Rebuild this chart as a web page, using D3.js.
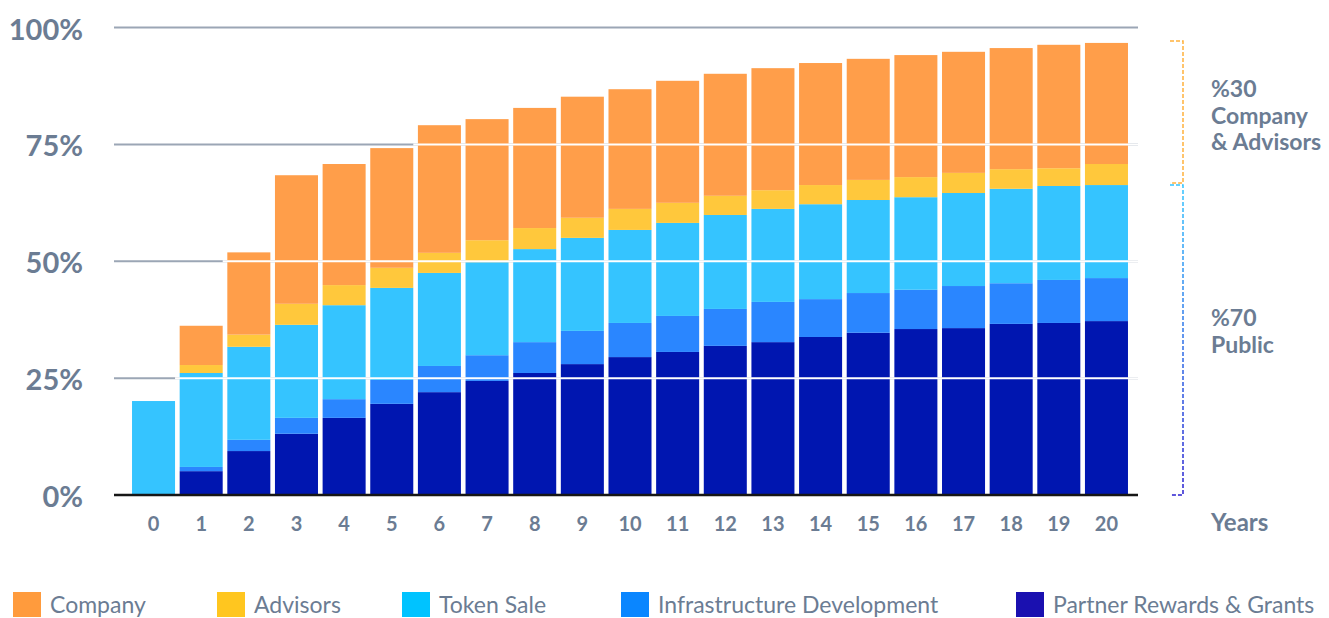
<!DOCTYPE html>
<html>
<head>
<meta charset="utf-8">
<script src="https://cdn.jsdelivr.net/npm/d3@7"></script>
<style>
  body { margin: 0; background: #fff; }
  svg text { font-family: Lato, "Noto Sans", sans-serif; }
</style>
</head>
<body>
<div id="chart"></div>
<script>
// years on the x axis
const years = d3.range(0, 21).map(String);

// segment sizes per year, in percent (bottom to top)
const partnerRewards = [0, 5.1, 9.4, 13.1, 16.5, 19.5, 22.0, 24.4, 26.1, 28.0, 29.5, 30.6, 31.9, 32.7, 33.8, 34.7, 35.5, 35.7, 36.6, 36.8, 37.2];
const infrastructure = [0, 0.9, 2.4, 3.4, 4.0, 5.1, 5.6, 5.5, 6.6, 7.1, 7.3, 7.7, 7.9, 8.6, 8.1, 8.5, 8.4, 9.0, 8.7, 9.2, 9.2];
const tokenSale = [20.1, 20.1, 19.9, 19.9, 20.1, 19.7, 19.9, 19.9, 19.9, 19.9, 19.9, 19.9, 20.1, 19.9, 20.3, 19.9, 19.8, 19.9, 20.2, 20.1, 19.9];
const advisors = [0, 1.7, 2.6, 4.5, 4.3, 4.3, 4.3, 4.7, 4.5, 4.3, 4.5, 4.3, 4.1, 4.0, 4.1, 4.3, 4.3, 4.3, 4.2, 3.8, 4.5];
const company = [0, 8.4, 17.6, 27.5, 25.9, 25.6, 27.3, 25.9, 25.7, 25.9, 25.6, 26.1, 26.1, 26.1, 26.1, 25.9, 26.1, 25.9, 25.9, 26.4, 25.9];

const yTicks = [0, 25, 50, 75, 100];

const seriesNames = ["Partner Rewards & Grants", "Infrastructure Development", "Token Sale", "Advisors", "Company"];
const barColors = ["#0016b0", "#2a86ff", "#35c4ff", "#ffc83c", "#ff9e4a"];
const legendColors = ["#1a10b0", "#0a86ff", "#00c3ff", "#ffc61f", "#ff9b3d"];
const legendOrder = ["Company", "Advisors", "Token Sale", "Infrastructure Development", "Partner Rewards & Grants"];

const textColor = "#6b7c93";

const table = years.map((yr, i) => ({
    year: yr,
    "Partner Rewards & Grants": partnerRewards[i],
    "Infrastructure Development": infrastructure[i],
    "Token Sale": tokenSale[i],
    "Advisors": advisors[i],
    "Company": company[i]
}));

const W = 1329, H = 618;
const plotLeft = 114, plotRight = 1138;

const svg = d3.select("#chart").append("svg")
    .attr("width", W)
    .attr("height", H);

const x = d3.scaleBand()
    .domain(years)
    .range([127.4, 1132.6])
    .paddingInner(0.097)
    .paddingOuter(0.097);

const y = d3.scaleLinear()
    .domain([0, 100])
    .range([495, 27.5]);

const stacked = d3.stack().keys(seriesNames)(table);
const totals = table.map(d => d3.sum(seriesNames, k => d[k]));
const gap = x.step() - x.bandwidth();

// grey grid lines behind the bars
svg.append("g")
    .selectAll("line")
    .data(yTicks.filter(t => t > 0))
    .enter()
    .append("line")
    .attr("x1", plotLeft)
    .attr("x2", plotRight)
    .attr("y1", d => y(d))
    .attr("y2", d => y(d))
    .attr("stroke", "#9ba6b5")
    .attr("stroke-width", 2);

// stacked bars
svg.append("g")
    .selectAll("g")
    .data(stacked)
    .enter()
    .append("g")
    .attr("fill", (d, i) => barColors[i])
    .selectAll("rect")
    .data(d => d)
    .enter()
    .append("rect")
    .attr("x", d => x(d.data.year))
    .attr("y", d => y(d[1]))
    .attr("width", x.bandwidth())
    .attr("height", d => Math.max(0, y(d[0]) - y(d[1])));

// white grid lines where they cross the bars
svg.append("g")
    .selectAll("line")
    .data(yTicks.filter(t => t > 0 && totals.some(v => v >= t)))
    .enter()
    .append("line")
    .attr("x1", t => x(years[totals.findIndex(v => v >= t)]) - gap)
    .attr("x2", plotRight)
    .attr("y1", d => y(d))
    .attr("y2", d => y(d))
    .attr("stroke", "#ffffff")
    .attr("stroke-width", 2);

// baseline
svg.append("line")
    .attr("x1", plotLeft)
    .attr("x2", plotRight)
    .attr("y1", y(0))
    .attr("y2", y(0))
    .attr("stroke", "#161616")
    .attr("stroke-width", 2.5);

// y tick labels
svg.append("g")
    .selectAll("text")
    .data(yTicks)
    .enter()
    .append("text")
    .attr("x", 83)
    .attr("y", d => y(d) + 12)
    .attr("text-anchor", "end")
    .attr("fill", textColor)
    .style("font-size", "29px")
    .style("font-weight", "bold")
    .text(d => d + "%");

// x tick labels
svg.append("g")
    .selectAll("text")
    .data(years)
    .enter()
    .append("text")
    .attr("x", d => x(d) + x.bandwidth() / 2)
    .attr("y", 531)
    .attr("text-anchor", "middle")
    .attr("fill", textColor)
    .style("font-size", "20px")
    .style("font-weight", "bold")
    .text(d => d);

svg.append("text")
    .attr("x", 1211)
    .attr("y", 531)
    .attr("fill", textColor)
    .style("font-size", "24px")
    .style("font-weight", "bold")
    .text("Years");

// brackets on the right
const last = table.length - 1;
const tokenTop = partnerRewards[last] + infrastructure[last] + tokenSale[last];
const bx = 1183, tickLen = 13;

const grad = svg.append("defs").append("linearGradient")
    .attr("id", "publicGrad")
    .attr("gradientUnits", "userSpaceOnUse")
    .attr("x1", 0).attr("x2", 0)
    .attr("y1", y(tokenTop)).attr("y2", y(0));
grad.append("stop").attr("offset", "0%").attr("stop-color", "#33c3ff");
grad.append("stop").attr("offset", "100%").attr("stop-color", "#2a1fd0");

const dashed = (path, color) => svg.append("path")
    .attr("d", path)
    .attr("fill", "none")
    .attr("stroke", color)
    .attr("stroke-width", 1.5)
    .attr("stroke-dasharray", "4,2");

const compTop = y(totals[last]) - 2, compBot = y(tokenTop) - 2;
dashed(`M${bx - tickLen},${compTop}H${bx}V${compBot}H${bx - tickLen}`, "#ffb13c");
dashed(`M${bx - tickLen},${y(tokenTop)}H${bx}V${y(0)}H${bx - tickLen}`, "url(#publicGrad)");

const rightLabels = [
    { lines: ["%30", "Company", "& Advisors"], y: 97 },
    { lines: ["%70", "Public"], y: 326 }
];
rightLabels.forEach(lbl => {
    const t = svg.append("text")
        .attr("x", 1211)
        .attr("y", lbl.y)
        .attr("fill", textColor)
        .style("font-size", "23px")
        .style("font-weight", "bold");
    lbl.lines.forEach((ln, i) => {
        t.append("tspan")
            .attr("x", 1211)
            .attr("dy", i === 0 ? 0 : 26.5)
            .text(ln);
    });
});

// legend
const legendX = [13, 217, 402, 621, 1016];
const legend = svg.append("g")
    .selectAll("g")
    .data(legendOrder)
    .enter()
    .append("g")
    .attr("transform", (d, i) => `translate(${legendX[i]},592)`);
legend.append("rect")
    .attr("width", 28)
    .attr("height", 25)
    .attr("fill", d => legendColors[seriesNames.indexOf(d)]);
legend.append("text")
    .attr("x", 37)
    .attr("y", 21)
    .attr("fill", textColor)
    .style("font-size", "23px")
    .text(d => d);
</script>
</body>
</html>
